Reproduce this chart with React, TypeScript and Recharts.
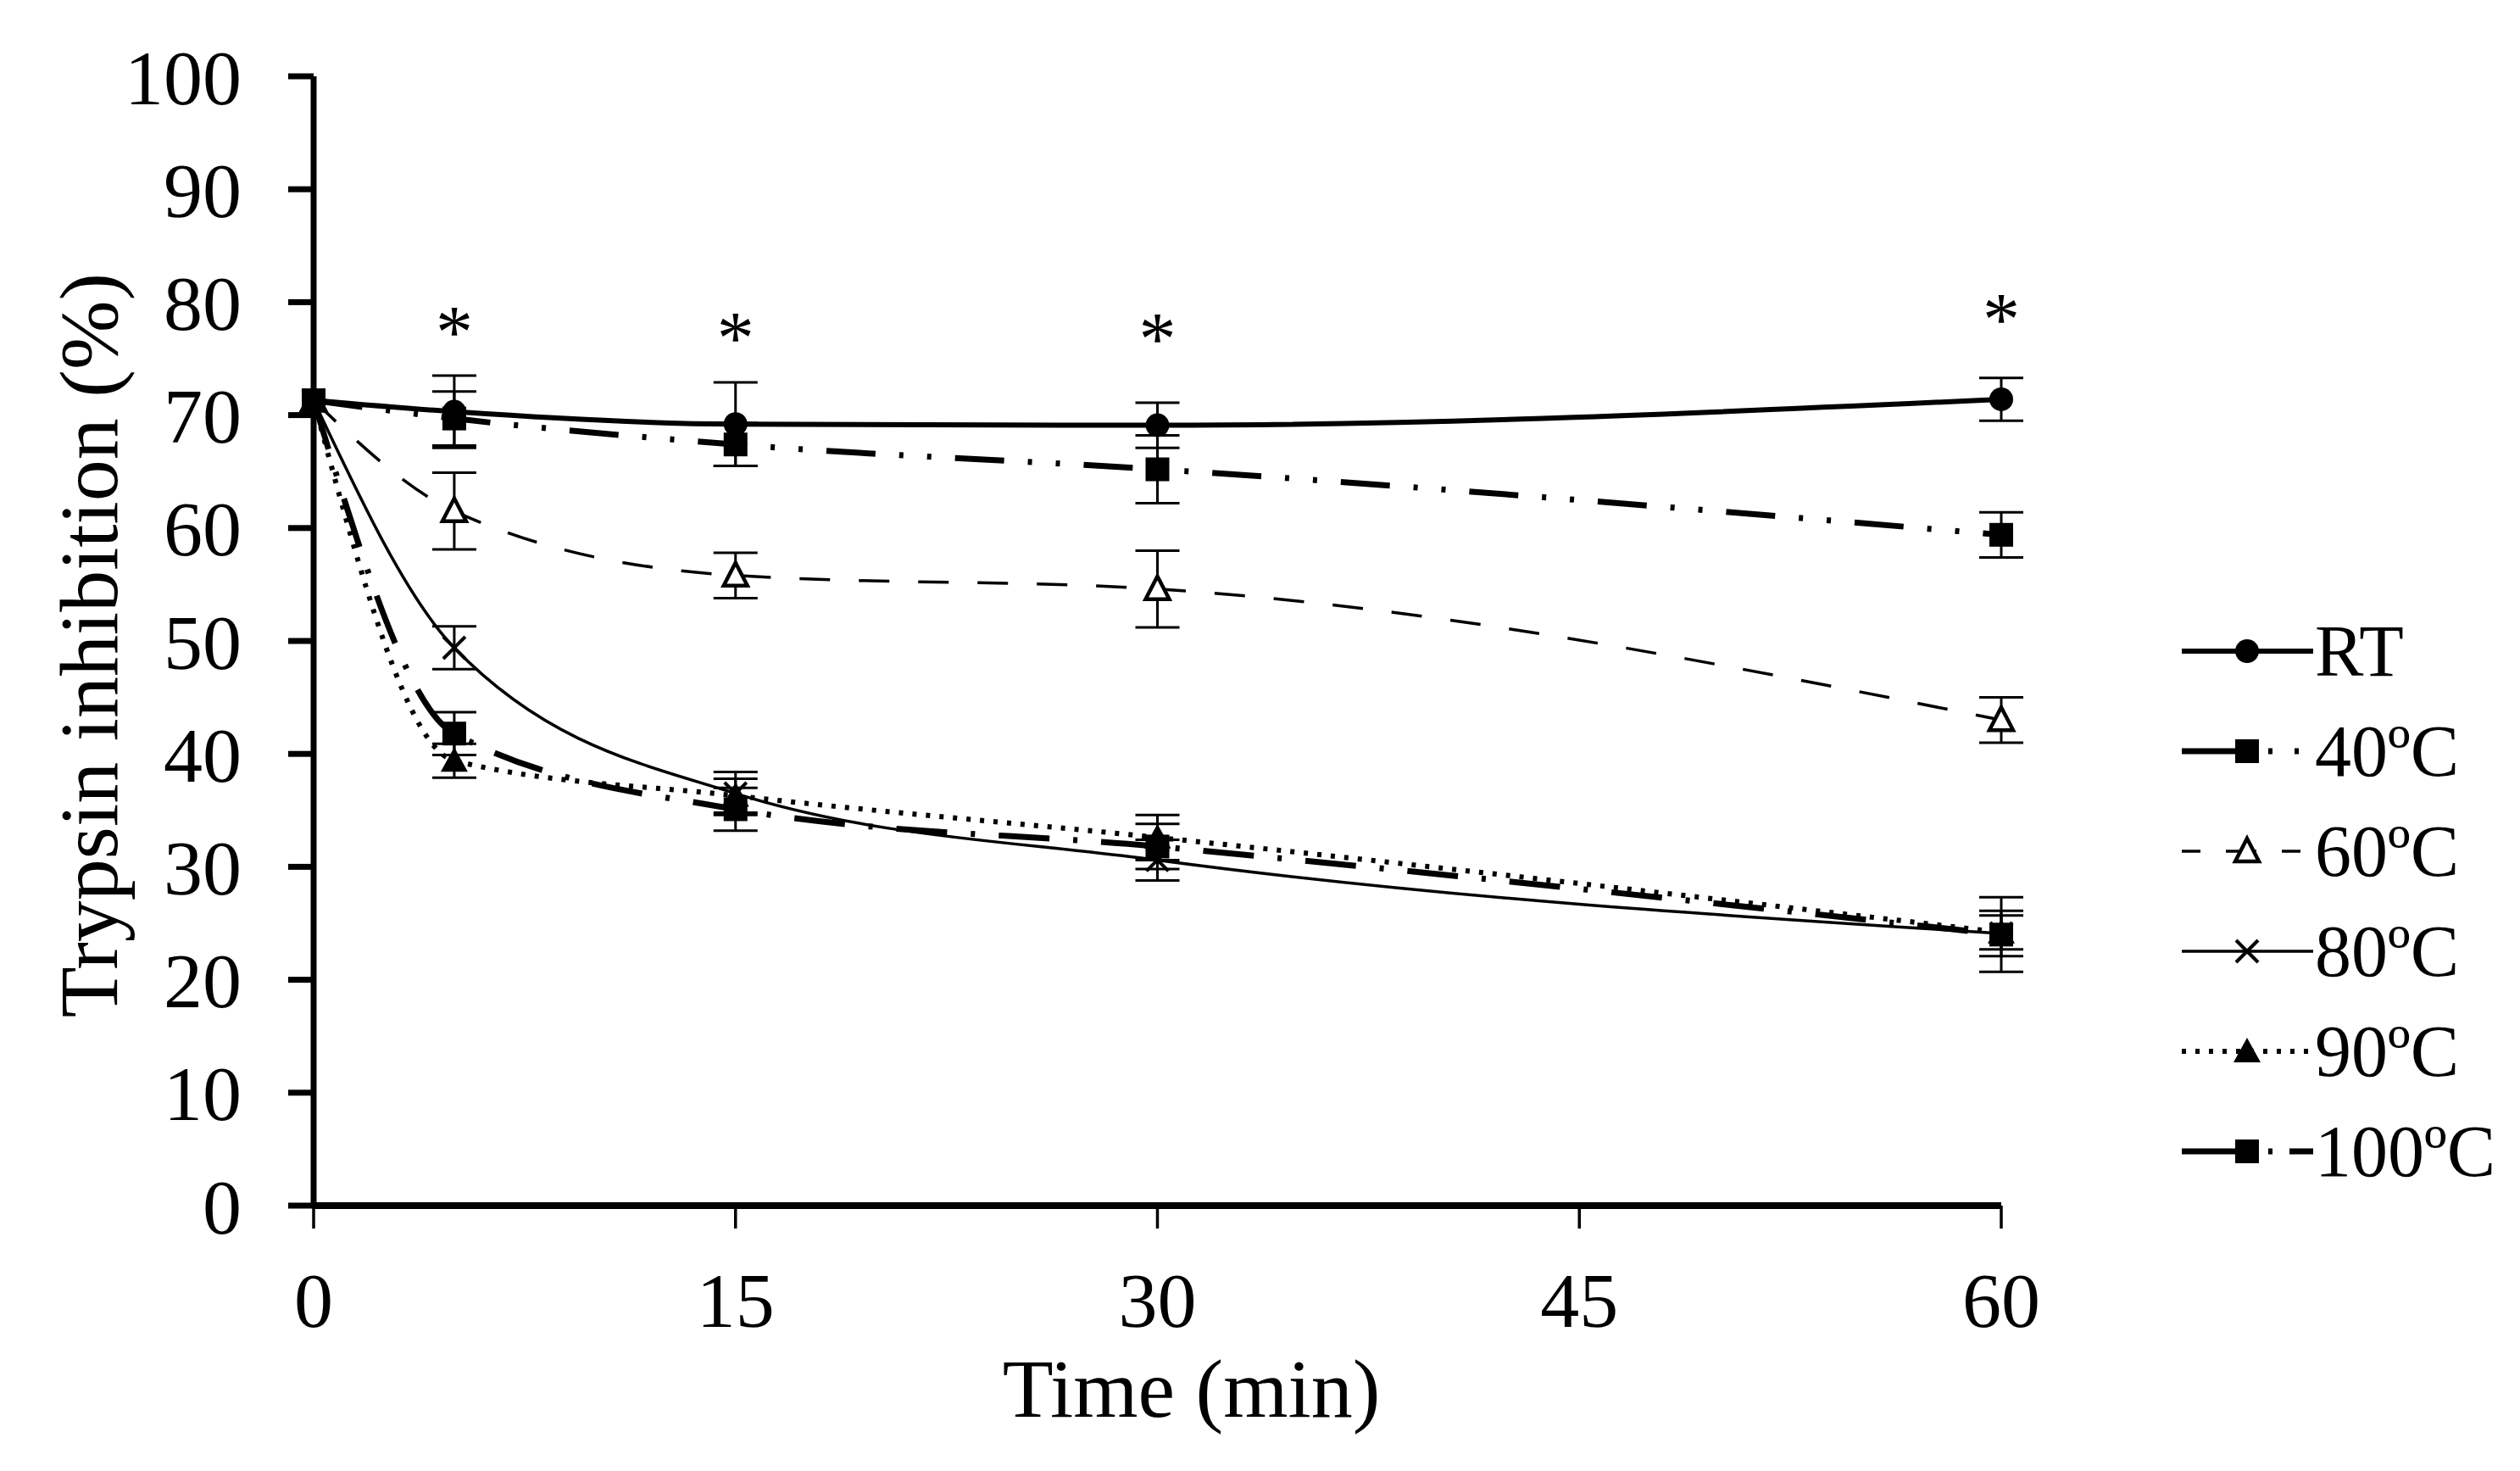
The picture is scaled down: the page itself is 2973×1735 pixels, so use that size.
import React from "react";
import {
  ComposedChart,
  ErrorBar,
  Label,
  Line,
  Scatter,
  XAxis,
  YAxis,
} from "recharts";

const FONT = "'Liberation Serif', 'Times New Roman', serif";

// sampling times (min)
const times = [0, 5, 15, 30, 60];

// trypsin inhibition (%) and error bars per treatment
const rtValues = [71.3, 70.3, 69.2, 69.1, 71.4];
const rtErrors = [0, 3.2, 3.7, 2.0, 1.9];
const c40Values = [71.3, 69.7, 67.4, 65.2, 59.4];
const c40Errors = [0, 2.4, 1.9, 3.0, 2.0];
const c60Values = [71.3, 61.5, 55.8, 54.6, 43.0];
const c60Errors = [0, 3.4, 2.0, 3.4, 2.0];
const c80Values = [71.3, 49.4, 36.5, 30.6, 24.1];
const c80Errors = [0, 1.9, 1.9, 1.8, 2.0];
const c90Values = [71.3, 39.4, 36.3, 32.6, 24.2];
const c90Errors = [0, 1.5, 1.5, 2.0, 1.5];
const c100Values = [71.3, 41.8, 35.1, 31.8, 24.0];
const c100Errors = [0, 1.9, 1.9, 2.0, 3.3];

const seriesNames = ["RT", "40ºC", "60ºC", "80ºC", "90ºC", "100ºC"];

const xTicks = [0, 15, 30, 45, 60];
const yTicks = [0, 10, 20, 30, 40, 50, 60, 70, 80, 90, 100];

// significance asterisks
const starTimes = [5, 15, 30, 60];
const starLevels = [78.3, 77.8, 77.7, 79.4];

const chartData = times.map((t, i) => ({
  t,
  rt: rtValues[i],
  rtErr: rtErrors[i],
  c40: c40Values[i],
  c40Err: c40Errors[i],
  c60: c60Values[i],
  c60Err: c60Errors[i],
  c80: c80Values[i],
  c80Err: c80Errors[i],
  c90: c90Values[i],
  c90Err: c90Errors[i],
  c100: c100Values[i],
  c100Err: c100Errors[i],
}));

const starData = starTimes.map((t, i) => ({ t, y: starLevels[i] }));

type MarkerType = "circle" | "square" | "openTriangle" | "cross" | "triangle";

const series: {
  key: string;
  name: string;
  marker: MarkerType;
  width: number;
  dash?: string;
  legendDash?: string;
}[] = [
  { key: "rt", name: seriesNames[0], marker: "circle", width: 6 },
  {
    key: "c40",
    name: seriesNames[1],
    marker: "square",
    width: 7,
    dash: "58 28 5 28 5 28",
    legendDash: "88 14 5 26 5 40",
  },
  { key: "c60", name: seriesNames[2], marker: "openTriangle", width: 3.5, dash: "36 34", legendDash: "22 30 36 30 22 28" },
  { key: "c80", name: seriesNames[3], marker: "cross", width: 3.5 },
  { key: "c90", name: seriesNames[4], marker: "triangle", width: 6, dash: "5 11", legendDash: "5 11" },
  {
    key: "c100",
    name: seriesNames[5],
    marker: "square",
    width: 7,
    dash: "60 28 5 28",
    legendDash: "88 14 5 20 30 10",
  },
];

const Marker = ({ type, cx, cy }: { type: MarkerType; cx: number; cy: number }) => {
  if (cx == null || cy == null) return null;
  switch (type) {
    case "circle":
      return <circle cx={cx} cy={cy} r={14} fill="#000" />;
    case "square":
      return <rect x={cx - 14} y={cy - 14} width={28} height={28} fill="#000" />;
    case "openTriangle":
      return (
        <polygon
          points={`${cx},${cy - 15} ${cx + 14},${cy + 12} ${cx - 14},${cy + 12}`}
          fill="#fff"
          stroke="#000"
          strokeWidth={4.5}
        />
      );
    case "triangle":
      return (
        <polygon
          points={`${cx},${cy - 16} ${cx + 16},${cy + 13} ${cx - 16},${cy + 13}`}
          fill="#000"
        />
      );
    case "cross":
      return (
        <g stroke="#000" strokeWidth={4}>
          <line x1={cx - 13} y1={cy - 13} x2={cx + 13} y2={cy + 13} />
          <line x1={cx - 13} y1={cy + 13} x2={cx + 13} y2={cy - 13} />
        </g>
      );
  }
  return null;
};

const StarShape = ({ cx, cy }: any) => (
  <text
    x={cx}
    y={cy + 42}
    textAnchor="middle"
    fontSize={88}
    fontFamily={FONT}
    fill="#000"
  >
    *
  </text>
);

const YTitle = ({ viewBox }: any) => {
  const { x, y, height } = viewBox;
  const cx = x + 105;
  const cy = y + height / 2 + 5;
  return (
    <text
      x={cx}
      y={cy}
      transform={`rotate(-90, ${cx}, ${cy})`}
      textAnchor="middle"
      dominantBaseline="central"
      fontSize={98}
      fontFamily={FONT}
      fill="#000"
    >
      Trypsin inhibition (%)
    </text>
  );
};

const XTitle = ({ viewBox }: any) => {
  const { x, y, width } = viewBox;
  return (
    <text
      x={x + width / 2 + 40}
      y={y + 249}
      textAnchor="middle"
      fontSize={98}
      fontFamily={FONT}
      fill="#000"
    >
      Time (min)
    </text>
  );
};

const LegendBox = () => (
  <div
    style={{
      position: "absolute",
      left: 2573,
      top: 709,
      fontFamily: FONT,
      fontSize: 86,
      color: "#000",
    }}
  >
    {series.map((s) => (
      <div
        key={s.key}
        style={{ display: "flex", alignItems: "center", height: 118 }}
      >
        <svg width={158} height={118} style={{ display: "block" }}>
          <line
            x1={1}
            x2={156}
            y1={59}
            y2={59}
            stroke="#000"
            strokeWidth={s.width}
            strokeDasharray={s.legendDash}
          />
          <Marker type={s.marker} cx={78} cy={59} />
        </svg>
        <span style={{ marginLeft: 0, lineHeight: 1 }}>{s.name}</span>
      </div>
    ))}
  </div>
);

const App = () => {
  return (
    <div
      style={{
        position: "absolute",
        left: 0,
        top: 0,
        width: 2973,
        height: 1735,
        background: "#fff",
      }}
    >
      <ComposedChart
        width={2973}
        height={1735}
        data={chartData}
        margin={{ top: 90, right: 612, bottom: 113, left: 0 }}
      >
        <XAxis
          dataKey="t"
          type="number"
          domain={[0, 60]}
          ticks={xTicks}
          interval={0}
          axisLine={{ stroke: "#000", strokeWidth: 8 }}
          tickLine={{ stroke: "#000", strokeWidth: 3.5 }}
          tickSize={27}
          tickMargin={51}
          height={200}
          tick={{ fill: "#000", fontSize: 92, fontFamily: FONT }}
        >
          <Label content={XTitle} />
        </XAxis>
        <YAxis
          type="number"
          domain={[0, 100]}
          ticks={yTicks}
          interval={0}
          width={370}
          axisLine={{ stroke: "#000", strokeWidth: 7 }}
          tickLine={{ stroke: "#000", strokeWidth: 7 }}
          tickSize={30}
          tickMargin={55}
          tick={{ fill: "#000", fontSize: 92, fontFamily: FONT }}
        >
          <Label content={YTitle} />
        </YAxis>

        {series.map((s) => (
          <Line
            key={s.key}
            dataKey={s.key}
            name={s.name}
            type="monotone"
            stroke="#000"
            strokeWidth={s.width}
            strokeDasharray={s.dash}
            isAnimationActive={false}
            activeDot={false}
            dot={(p: any) => (
              <Marker key={`${s.key}-${p.index}`} type={s.marker} cx={p.cx} cy={p.cy} />
            )}
          >
            <ErrorBar
              dataKey={`${s.key}Err`}
              direction="y"
              width={26}
              stroke="#000"
              strokeWidth={3}
              isAnimationActive={false}
            />
          </Line>
        ))}

        <Scatter
          data={starData}
          dataKey="y"
          shape={StarShape}
          isAnimationActive={false}
        />
      </ComposedChart>
      <LegendBox />
    </div>
  );
};

export default App;
